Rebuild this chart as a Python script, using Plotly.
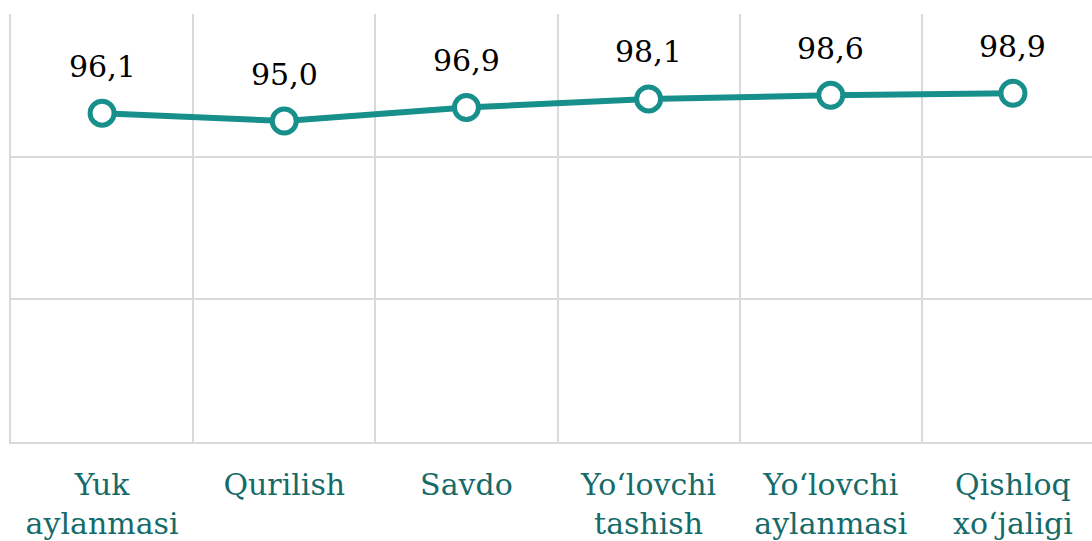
import plotly.graph_objects as go

categories = ["Yuk<br>aylanmasi", "Qurilish", "Savdo", "Yo‘lovchi<br>tashish",
              "Yo‘lovchi<br>aylanmasi", "Qishloq<br>xo‘jaligi"]
values = [96.1, 95.0, 96.9, 98.1, 98.6, 98.9]
labels = [f"{v:.1f}".replace(".", ",") for v in values]

line_color = "#178f8b"
grid_color = "#d9d9d9"
serif = "DejaVu Serif"

fig = go.Figure(go.Scatter(
    x=categories, y=values, mode="lines+markers",
    line=dict(color=line_color, width=6),
    marker=dict(size=24, color="white", line=dict(color=line_color, width=5)),
    cliponaxis=False, hoverinfo="skip",
))

for c, v, t in zip(categories, values, labels):
    fig.add_annotation(x=c, y=v, text=t, showarrow=False, yshift=47,
                       yanchor="middle",
                       font=dict(family=serif, size=30, color="#000000"))

fig.update_layout(
    width=1092, height=541,
    margin=dict(l=11, r=0, t=14, b=99),
    plot_bgcolor="white", paper_bgcolor="white",
    showlegend=False,
    font=dict(family=serif),
)
fig.update_xaxes(
    type="category", range=[-0.5, 5.434], tickson="boundaries",
    showgrid=True, gridcolor=grid_color, gridwidth=2,
    showline=True, linecolor=grid_color, linewidth=2,
    ticks="", tickfont=dict(family=serif, size=30, color="#156b69"),
    ticklabelstandoff=15, automargin=False,
)
fig.update_yaxes(
    range=[50, 110], tick0=50, dtick=20, showticklabels=False,
    showgrid=True, gridcolor=grid_color, gridwidth=2, zeroline=False,
    showline=True, linecolor=grid_color, linewidth=2, automargin=False,
)

fig.write_html("out.html", config={"displayModeBar": False},
               post_script="document.body.style.margin='0';")
